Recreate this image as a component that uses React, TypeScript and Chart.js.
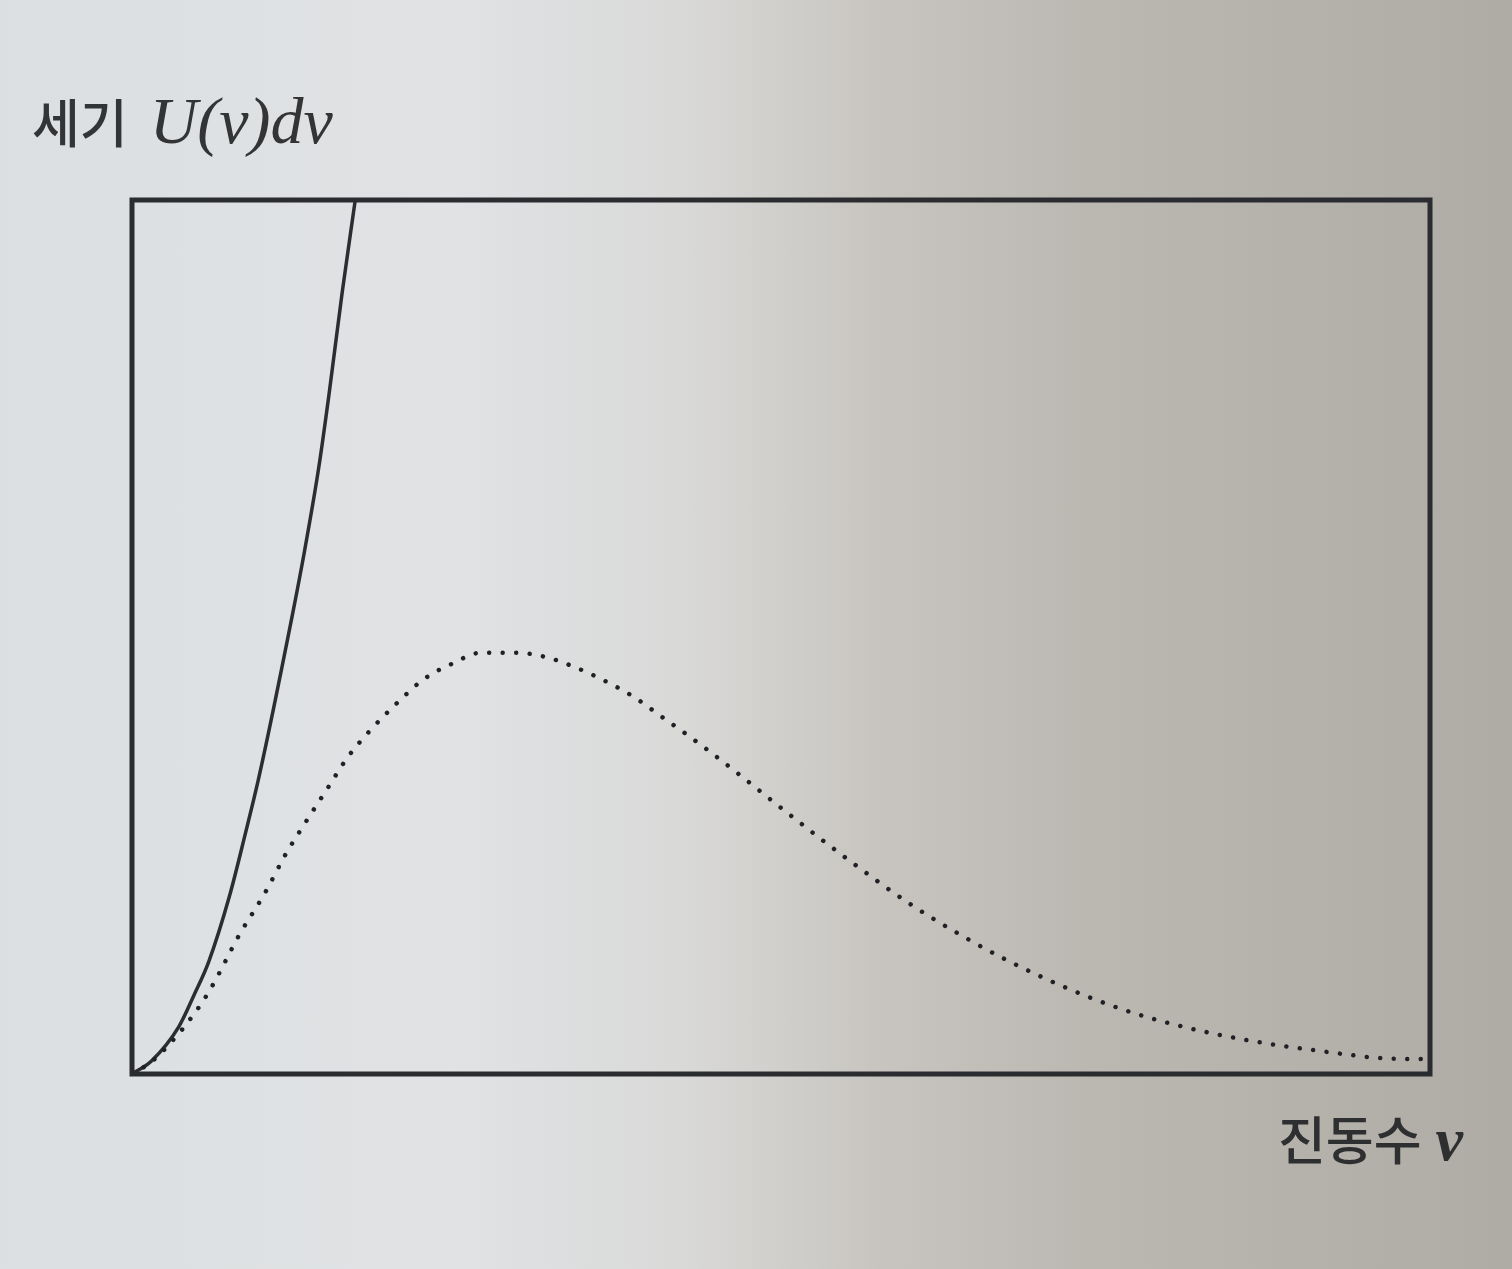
import React, { useEffect, useRef } from "react";
import { Chart, registerables } from "chart.js";

Chart.register(...registerables);

// Planck curve (dotted) (x: frequency, y: intensity, 0..100 scale)
const planckX = [0, 0.15, 0.3, 0.47, 0.6, 0.83, 1.02, 1.19, 1.32, 1.52, 1.65, 1.81, 2.06, 2.25, 2.46, 2.69, 2.95, 3.19, 3.42, 3.64, 3.86, 4.06, 4.25, 4.45, 4.65, 5.03, 5.52, 6.01, 6.42, 6.73, 7.16, 7.59, 8.02, 8.58, 9.22, 9.64, 9.96];
const planckY = [0, 1.4, 3.6, 6.7, 9.6, 16.0, 20.6, 25.3, 28.4, 33.0, 36.0, 38.9, 42.7, 45.2, 46.9, 48.2, 48.2, 47.7, 46.5, 45.0, 43.2, 41.1, 39.1, 36.9, 34.6, 30.1, 24.5, 19.3, 15.6, 13.1, 10.1, 7.6, 5.7, 3.9, 2.5, 1.8, 1.7];

// Rayleigh-Jeans curve (solid)
const rjX = [0, 0.15, 0.36, 0.48, 0.59, 0.75, 0.87, 0.98, 1.23, 1.33, 1.44, 1.52, 1.62, 1.72];
const rjY = [0, 1.5, 5.4, 9.1, 12.8, 20.3, 27.3, 34.1, 52.1, 59.9, 69.5, 78.0, 89.5, 100];

const xRange = [0, 10];
const yRange = [0, 100];

const yLabelKo = "세기";
const yLabelMath = "U(ν)dν";
const xLabelKo = "진동수";
const xLabelMath = "ν";

const W = 1512;
const H = 1269;

const framePlugin = {
  id: "frame",
  afterDraw(chart: any) {
    const { ctx, chartArea } = chart;
    ctx.save();
    ctx.strokeStyle = "#2a2c30";
    ctx.lineWidth = 5;
    ctx.strokeRect(chartArea.left, chartArea.top, chartArea.right - chartArea.left, chartArea.bottom - chartArea.top);
    ctx.restore();
  },
};

export default function App() {
  const ref = useRef<HTMLCanvasElement | null>(null);

  useEffect(() => {
    document.body.style.margin = "0";
    if (!ref.current) return;
    const chart = new Chart(ref.current, {
      type: "line",
      data: {
        datasets: [
          {
            label: "Planck",
            data: planckX.map((x, i) => ({ x, y: planckY[i] })),
            borderColor: "#1f2125",
            borderWidth: 4.5,
            borderDash: [0.01, 13.5],
            borderCapStyle: "round",
            pointRadius: 0,
            cubicInterpolationMode: "monotone",
            fill: false,
          },
          {
            label: "Rayleigh-Jeans",
            data: rjX.map((x, i) => ({ x, y: rjY[i] })),
            borderColor: "#2b2d31",
            borderWidth: 3.5,
            pointRadius: 0,
            cubicInterpolationMode: "monotone",
            fill: false,
          },
        ],
      },
      options: {
        animation: false,
        responsive: false,
        layout: { padding: { left: 132, top: 200, right: W - 1430, bottom: H - 1074 } },
        plugins: { legend: { display: false }, tooltip: { enabled: false }, title: { display: false } },
        scales: {
          x: { type: "linear", min: xRange[0], max: xRange[1], display: false },
          y: { type: "linear", min: yRange[0], max: yRange[1], display: false },
        },
      },
      plugins: [framePlugin],
    } as any);
    return () => chart.destroy();
  }, []);

  const ko = "'Noto Sans CJK KR', 'Noto Sans', sans-serif";
  const math = "'Liberation Serif', 'DejaVu Serif', serif";

  return (
    <div
      style={{
        position: "absolute",
        left: 0,
        top: 0,
        width: W,
        height: H,
        overflow: "hidden",
        background:
          "linear-gradient(90deg, #dcdfe1 0%, #e0e2e4 30%, #d9d9d8 45%, #c8c5c0 58%, #bbb7b1 72%, #b4b0aa 88%, #afaba5 100%)",
      }}
    >
      <canvas ref={ref} width={W} height={H} style={{ position: "absolute", left: 0, top: 0 }} />
      <div
        style={{
          position: "absolute",
          left: 32,
          top: 88,
          color: "#333436",
          whiteSpace: "nowrap",
          lineHeight: 1,
          display: "flex",
          alignItems: "baseline",
        }}
      >
        <span style={{ fontFamily: ko, fontSize: 52, fontWeight: 500 }}>{yLabelKo}</span>
        <span style={{ fontFamily: math, fontStyle: "italic", fontSize: 66, marginLeft: 22 }}>{yLabelMath}</span>
      </div>
      <div
        style={{
          position: "absolute",
          left: 1278,
          top: 1108,
          color: "#2e2f31",
          whiteSpace: "nowrap",
          lineHeight: 1,
          display: "flex",
          alignItems: "baseline",
        }}
      >
        <span style={{ fontFamily: ko, fontSize: 52, fontWeight: 500 }}>{xLabelKo}</span>
        <span style={{ fontFamily: math, fontStyle: "italic", fontWeight: "bold", fontSize: 62, marginLeft: 14 }}>{xLabelMath}</span>
      </div>
    </div>
  );
}
